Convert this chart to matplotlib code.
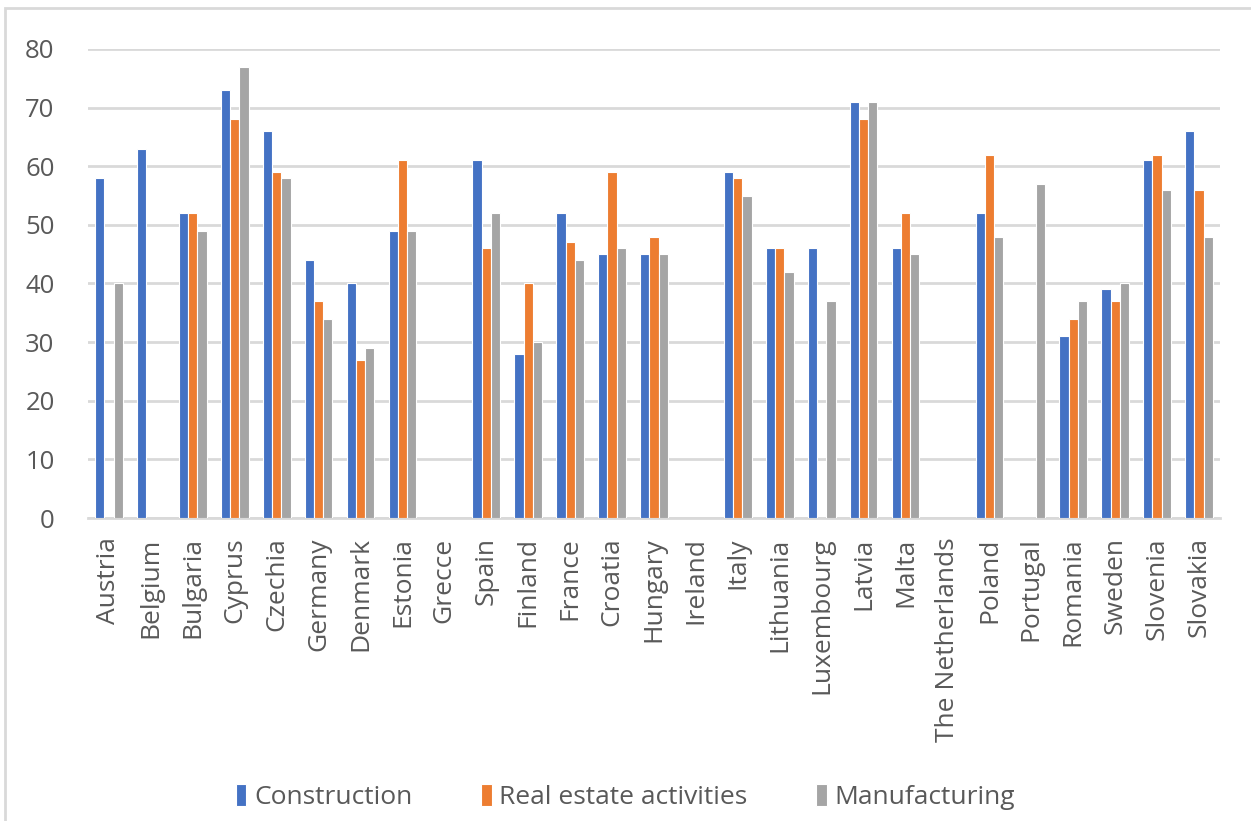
import numpy as np
import matplotlib.pyplot as plt
from matplotlib.patches import Rectangle

countries = ["Austria", "Belgium", "Bulgaria", "Cyprus", "Czechia", "Germany",
             "Denmark", "Estonia", "Grecce", "Spain", "Finland", "France",
             "Croatia", "Hungary", "Ireland", "Italy", "Lithuania", "Luxembourg",
             "Latvia", "Malta", "The Netherlands", "Poland", "Portugal",
             "Romania", "Sweden", "Slovenia", "Slovakia"]

construction = [58, 63, 52, 73, 66, 44, 40, 49, np.nan, 61, 28, 52, 45, 45,
                np.nan, 59, 46, 46, 71, 46, np.nan, 52, np.nan, 31, 39, 61, 66]
real_estate = [np.nan, np.nan, 52, 68, 59, 37, 27, 61, np.nan, 46, 40, 47, 59, 48,
               np.nan, 58, 46, np.nan, 68, 52, np.nan, 62, np.nan, 34, 37, 62, 56]
manufacturing = [40, np.nan, 49, 77, 58, 34, 29, 49, np.nan, 52, 30, 44, 46, 45,
                 np.nan, 55, 42, 37, 71, 45, np.nan, 48, 57, 37, 40, 56, 48]

series = [("Construction", construction, "#4472C4"),
          ("Real estate activities", real_estate, "#ED7D31"),
          ("Manufacturing", manufacturing, "#A5A5A5")]

plt.rcParams['font.family'] = ['Open Sans', 'DejaVu Sans']
txt = "#595959"

fig = plt.figure(figsize=(12.51, 8.21), dpi=100)
ax = fig.add_axes([88/1251, 1-518/821, (1220-88)/1251, (518-49)/821])

x = np.arange(len(countries))
w = 0.22
for i, (name, vals, col) in enumerate(series):
    ax.bar(x + (i-1)*w, vals, width=w, color=col, edgecolor="white",
           linewidth=0.8, label=name, zorder=3)

ax.set_xlim(-0.5, len(countries)-0.5)
ax.set_ylim(0, 80)
ax.set_yticks(range(0, 81, 10))
ax.grid(axis="y", color="#d9d9d9", linewidth=2, zorder=0)
for s in ["top", "right", "left"]:
    ax.spines[s].set_visible(False)
ax.spines["bottom"].set_color("#d9d9d9")
ax.spines["bottom"].set_linewidth(2)
ax.tick_params(axis="y", length=0, pad=24, labelsize=18.5, labelcolor=txt)
ax.tick_params(axis="x", length=0, pad=14, labelsize=19, labelcolor=txt)
ax.set_xticks(x)
ax.set_xticklabels(countries, rotation=90, ha="center", va="top")

ax.legend(loc="center", bbox_to_anchor=(0.5, 1-797/821), bbox_transform=fig.transFigure,
          ncol=3, frameon=False, fontsize=19, labelcolor=txt, handlelength=0.4,
          handleheight=0.9, handletextpad=0.3, columnspacing=2.6)

fig.patches.append(Rectangle((5/1251, -0.1), 1.1, 1-8/821+0.1, transform=fig.transFigure,
                             fill=False, edgecolor="#d9d9d9", linewidth=2))

fig.savefig("out.png", dpi=100)
